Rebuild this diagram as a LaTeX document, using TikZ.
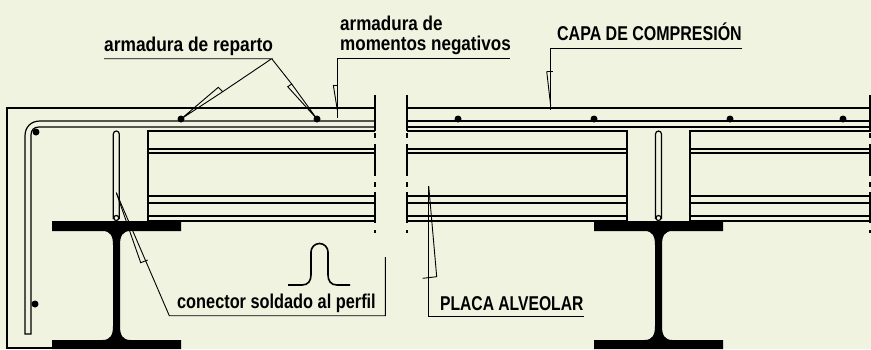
\documentclass[tikz,border=0pt]{standalone}
\usepackage{fontspec}
\setmainfont{Liberation Sans}
\usepackage{tikz}
\definecolor{fondo}{RGB}{239,243,224}
\tikzset{
        x=1pt,y=-1pt,
        thinline/.style={line width=0.9pt},
        rebar/.style={line width=1.2pt},
        heavy/.style={line width=1.8pt},
        breakline/.style={line width=1.4pt,dash pattern=on 36pt off 2pt on 5pt off 6pt on 32pt off 6pt on 5pt off 5pt on 31pt off 7pt on 4pt off 99pt},
        label/.style={font=\bfseries\fontsize{20}{20.7}\selectfont,inner sep=0pt,anchor=base west,align=left,transform shape},
    }
\tikzstyle{bardot}=[fill=black,circle,minimum size=7pt,inner sep=0pt]
\newcommand{\ibeam}[1]{
    \fill[shift={(#1,0)}] (-64.5,221) -- (64.5,221) -- (64.5,231) -- (14,231)
        .. controls (6,231) and (3.5,236) .. (3.5,245) -- (3.5,326)
        .. controls (3.5,335) and (6,340) .. (14,340) -- (64.5,340) -- (64.5,349)
        -- (-64.5,349) -- (-64.5,340) -- (-14,340)
        .. controls (-6,340) and (-3.5,335) .. (-3.5,326) -- (-3.5,245)
        .. controls (-3.5,236) and (-6,231) .. (-14,231) -- (-64.5,231) -- cycle;
}
\newcommand{\stud}[1]{
    \draw[rebar,shift={(#1,0)}] (-3,219) -- (-3,134) arc[start angle=180,end angle=360,radius=3] -- (3,219);
    \draw[rebar,shift={(#1,0)}] (0,218) circle[radius=2.5];
}
\begin{document}
\begin{tikzpicture}
    \fill[fondo] (0,0) rectangle (871,349);
    \useasboundingbox (0,0) rectangle (871,349);

    % concrete outline
    \draw[heavy] (375,108) -- (7,108) -- (7,348) -- (52,348);
    \draw[heavy] (407,108) -- (871,108);

    % negative moment bar
    \draw[rebar] (375,121) -- (40,121) .. controls (31,121) and (25,127) .. (25,136) -- (25,334) -- (31,334)
        -- (31,135) .. controls (31,130) and (34,127) .. (39,127) -- (375,127);
    \draw[rebar] (407,121) -- (871,121);
    \draw[rebar] (407,127) -- (871,127);

    % slabs
    \draw[heavy] (375,131) -- (148,131) -- (148,221) -- (375,221);
    \draw[heavy] (407,131) -- (627,131) -- (627,221) -- (407,221);
    \draw[heavy] (871,131) -- (690,131) -- (690,221) -- (871,221);
    \foreach \y in {149,153,196,203,216} {
        \draw[rebar] (148,\y) -- (375,\y);
        \draw[rebar] (407,\y) -- (627,\y);
        \draw[rebar] (690,\y) -- (871,\y);
    }

    % break lines
    \foreach \x in {375,407,870}
        \draw[breakline] (\x,95) -- (\x,233);

    % steel
    \ibeam{116.5}
    \ibeam{658.5}
    \stud{116.3}
    \stud{658.5}

    % bars
    \foreach \name/\x/\y in {a/36/132,b/35/304,c/181/119,d/317/119,e/458/119,f/594/119,g/730/119,h/843/119}
        \node[bardot] (dot\name) at (\x,\y) {};

    % profile sketch
    \draw[line width=1.6pt] (288,285) -- (302,285) .. controls (308,285) and (311,281) .. (311,275) -- (311,252)
        arc[start angle=180,end angle=360,radius=8.5] -- (328,275)
        .. controls (328,281) and (331,285) .. (337,285) -- (350,285);

    % labels
    \node[label,xscale=0.868] (reparto) at (104,51) {armadura de reparto};
    \node[label,xscale=0.853] (momentos) at (340,50.7) {armadura de\\momentos negativos};
    \node[label,xscale=0.80] (capa) at (557,40) {CAPA DE COMPRESIÓN};
    \node[label,xscale=0.816] (conector) at (177,308) {conector soldado al perfil};
    \node[label,xscale=0.783] (placa) at (440,310) {PLACA ALVEOLAR};

    % leaders
    \coordinate (apex) at (271.7,58.7);
    \coordinate (momtop) at (337.3,58.7);
    \coordinate (capatop) at (550.7,48);
    \coordinate (conbend) at (169.3,315.7);
    \coordinate (placabend) at (428.7,316);
    \draw[thinline] (104,58.7) -- (apex) -- (222.7,91.7) -- (218.3,87.3) -- (dotc.center) -- (222.7,91.7);
    \draw[thinline] (apex) -- (291.7,84) -- (287.7,86.7) -- (dotd.center) -- (291.7,84);
    \draw[thinline] (510,58.7) -- (momtop) -- (337.3,118);
    \draw[thinline] (333.3,85) -- (337.3,85);
    \draw[thinline] (333.3,85) -- (337.3,110);
    \draw[thinline] (742,48) -- (capatop) -- (550.7,110);
    \draw[thinline] (546.7,71.3) -- (553.3,71.3);
    \draw[thinline] (546.7,71.3) -- (550.7,106);
    \draw[thinline] (116.3,192.7) -- (conbend) -- (385.3,315.7) -- (385.3,257);
    \draw[thinline] (116.3,192.7) -- (140.7,262.7) -- (147.7,260);
    \draw[thinline] (428.7,186) -- (placabend) -- (583.7,316);
    \draw[thinline] (428.7,186) -- (436.7,276.7) -- (422.7,278.3);
\end{tikzpicture}
\end{document}
